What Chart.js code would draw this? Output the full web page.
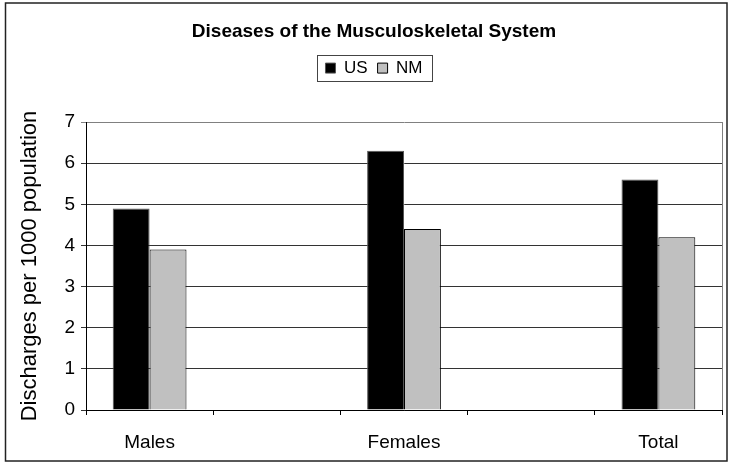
<!DOCTYPE html>
<html>
<head>
<meta charset="utf-8">
<script src="https://cdn.jsdelivr.net/npm/chart.js@4"></script>
<style>
  body { margin: 0; background: #fff; }
</style>
</head>
<body>
<canvas id="chart" width="731" height="465"></canvas>
<script>
// blank categories between the groups, as in the original sheet
const categories = ['Males', '', 'Females', '', 'Total'];
const usValues = [4.9, null, 6.3, null, 5.6];
const nmValues = [3.9, null, 4.4, null, 4.2];
const yTicks = [0, 1, 2, 3, 4, 5, 6, 7];

const FONT = "'Liberation Sans', Arial, sans-serif";

// outer frame, legend box and right edge of the plot area
const framePlugin = {
  id: 'frame',
  afterDraw(chart) {
    const ctx = chart.ctx;
    const area = chart.chartArea;
    ctx.save();
    ctx.strokeStyle = '#222';
    ctx.lineWidth = 1.5;
    ctx.strokeRect(5.5, 3, 721.5, 458);

    ctx.strokeStyle = '#808080';
    ctx.lineWidth = 1;
    ctx.beginPath();
    ctx.moveTo(area.right + 0.5, area.top);
    ctx.lineTo(area.right + 0.5, area.bottom);
    ctx.stroke();

    const boxes = chart.legend.legendHitBoxes;
    if (boxes && boxes.length) {
      const first = boxes[0];
      const last = boxes[boxes.length - 1];
      const left = Math.round(first.left - 8) + 0.5;
      const right = Math.round(last.left + last.width + 9) + 0.5;
      const top = Math.round(first.top - 4.5) + 0.5;
      const bottom = Math.round(first.top + first.height + 4.5) + 0.5;
      ctx.strokeStyle = '#444';
      ctx.strokeRect(left, top, right - left, bottom - top);
    }
    ctx.restore();
  }
};

const ctx = document.getElementById('chart').getContext('2d');
new Chart(ctx, {
  type: 'bar',
  data: {
    labels: categories,
    datasets: [
      {
        label: 'US',
        data: usValues,
        backgroundColor: '#000000',
        borderColor: '#555555',
        borderWidth: 1,
      },
      {
        label: 'NM',
        data: nmValues,
        backgroundColor: '#c0c0c0',
        borderColor: '#000000',
        borderWidth: 1,
      },
    ],
  },
  options: {
    responsive: false,
    animation: false,
    layout: { padding: { top: 20, left: 26, right: 9, bottom: 0 } },
    datasets: {
      bar: { categoryPercentage: 0.58, barPercentage: 1 },
    },
    plugins: {
      title: {
        display: true,
        text: 'Diseases of the Musculoskeletal System',
        color: '#000',
        font: { family: FONT, size: 19, weight: 'bold' },
        padding: { top: 0, bottom: 6.8 },
      },
      // empty spacer between legend and plot area
      subtitle: {
        display: true,
        text: '',
        weight: 500,
        font: { family: FONT, size: 10, lineHeight: 1 },
        padding: { top: 0, bottom: 25.4 },
      },
      legend: {
        display: true,
        position: 'top',
        labels: {
          color: '#000',
          font: { family: FONT, size: 17 },
          boxWidth: 10,
          boxHeight: 10,
          padding: 10,
        },
      },
      tooltip: { enabled: false },
    },
    scales: {
      x: {
        grid: {
          display: true,
          drawOnChartArea: false,
          drawTicks: true,
          tickLength: 5,
          color: '#000',
        },
        border: { color: '#000', width: 1 },
        ticks: {
          color: '#000',
          font: { family: FONT, size: 19 },
          padding: 16,
          maxRotation: 0,
          autoSkip: false,
        },
        afterFit(scale) { scale.height = 55; },
      },
      y: {
        min: 0,
        max: 7,
        afterBuildTicks(scale) {
          scale.ticks = yTicks.map(v => ({ value: v }));
        },
        grid: {
          color: ctx => (ctx.tick && ctx.tick.value === 7 ? '#808080' : '#333333'),
          tickLength: 5,
        },
        border: { color: '#000', width: 1 },
        ticks: {
          color: '#000',
          font: { family: FONT, size: 19 },
          padding: 6,
        },
        title: {
          display: true,
          text: 'Discharges per 1000 population',
          color: '#000',
          font: { family: FONT, size: 22 },
          padding: { top: -9, bottom: 0 },
        },
        afterFit(scale) { scale.width = 60; },
      },
    },
  },
  plugins: [framePlugin],
});
</script>
</body>
</html>
